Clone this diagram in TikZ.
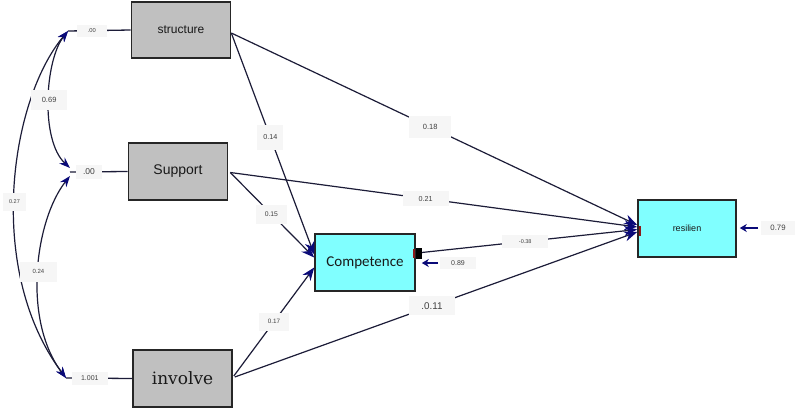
\documentclass[tikz,border=0pt]{standalone}
\usepackage{fontspec}
\setmainfont{Liberation Sans}
\newfontfamily\calfont{Carlito}
\newfontfamily\serfont{DejaVu Serif}
\usetikzlibrary{arrows.meta}
\definecolor{boxgray}{HTML}{C0C0C0}
\definecolor{boxcyan}{HTML}{80FFFF}
\definecolor{linec}{HTML}{1C1C38}
\definecolor{navyc}{HTML}{0A0A78}
\definecolor{lblbg}{HTML}{F6F6F6}
\definecolor{lbltxt}{HTML}{404040}
\definecolor{mkred}{HTML}{8B1A1A}
\begin{document}
\begin{tikzpicture}[x=1pt,y=-1pt,
  vbox/.style={draw=black!85, line width=1.6pt, minimum width=99pt, minimum height=56pt, inner sep=0pt, text=black!90},
  gbox/.style={vbox, fill=boxgray},
  cbox/.style={vbox, fill=boxcyan},
  lbl/.style={fill=lblbg, text=lbltxt, inner xsep=6pt, inner ysep=4pt, font=\fontsize{7}{8}\selectfont},
  arr/.style={draw=linec, line width=1.2pt, -{Stealth[length=13pt,width=10pt,color=navyc]}},
  cov/.style={draw=linec, line width=1.2pt, {Stealth[length=11pt,width=8pt,color=navyc]}-{Stealth[length=11pt,width=8pt,color=navyc]}},
  plainln/.style={draw=linec, line width=1.3pt},
  errarr/.style={draw=navyc, line width=2.2pt, -{Stealth[length=7pt,width=8pt,color=navyc]}}
]
\useasboundingbox[fill=white] (0,0) rectangle (798,415);

% variable boxes
\node[gbox, font=\fontsize{12}{14}\selectfont] (st) at (181,30) {structure};
\node[gbox, minimum height=57pt, font=\fontsize{14}{16}\selectfont] (sp) at (178,171.5) {Support};
\node[gbox, minimum height=57pt, font=\serfont\fontsize{17}{19}\selectfont] (iv) at (182.5,378.5) {involve};
\node[cbox, minimum width=100pt, minimum height=57pt, font=\calfont\fontsize{15}{17}\selectfont] (cp) at (365,262.5) {Competence};
\node[cbox, minimum width=98pt, minimum height=57pt, font=\fontsize{9}{11}\selectfont] (rs) at (687,228.5) {resilien};

% variance points
\coordinate (vS) at (68,31);
\coordinate (vP) at (70,172);
\coordinate (vI) at (66,378);

% covariances
\draw[cov] (vS) .. controls (10,100) and (-15,270) .. (vI)
  node[lbl, pos=0.53, font=\fontsize{5.5}{6}\selectfont, inner xsep=6pt, inner ysep=7pt] (l27) {0.27};
\draw[cov] (vS) .. controls (45,60) and (40,140) .. ([yshift=4pt]vP)
  node[lbl, pos=0.5, font=\fontsize{7.5}{8}\selectfont, inner xsep=11pt, inner ysep=7pt] (l69) {0.69};
\draw[cov] ([yshift=-4pt]vP) .. controls (35,220) and (22,320) .. (vI)
  node[lbl, pos=0.5, font=\fontsize{6}{7}\selectfont, inner xsep=13pt, inner ysep=8pt] (l24) {0.24};

% variance lines
\draw[plainln] (vS) -- (st.west) node[lbl, pos=0.38, font=\fontsize{5.8}{7}\selectfont, inner xsep=11pt] (v1) {.00};
\draw[plainln] (vP) -- (sp.west) node[lbl, pos=0.33, font=\fontsize{8.5}{9}\selectfont, inner xsep=7pt] (v2) {.00};
\draw[plainln] (vI) -- (iv.west) node[lbl, pos=0.36, font=\fontsize{7}{8}\selectfont, inner xsep=9pt] (v3) {1.001};

% regression paths
\draw[arr] ([yshift=-3pt]st.east) -- ([yshift=3.5pt]rs.west)
  node[lbl, pos=0.49, font=\fontsize{7.5}{8}\selectfont, inner xsep=14pt, inner ysep=8pt] (p18) {0.18};
\draw[arr] ([yshift=-3pt]st.east) -- ([yshift=8pt]cp.west)
  node[lbl, pos=0.47, font=\fontsize{7.2}{8}\selectfont, inner ysep=10pt] (p14) {0.14};
\draw[arr] ([xshift=2pt,yshift=-1pt]sp.east) -- ([yshift=1.5pt]rs.west)
  node[lbl, pos=0.48, font=\fontsize{7.2}{8}\selectfont, inner xsep=16pt, inner ysep=5pt] (p21) {0.21};
\draw[arr] ([xshift=2pt,yshift=-1pt]sp.east) -- ([yshift=5pt]cp.west)
  node[lbl, pos=0.49, font=\fontsize{6.8}{8}\selectfont, inner xsep=9pt, inner ysep=7pt] (p15) {0.15};
\draw[arr] ([xshift=1pt,yshift=2.5pt]iv.east) -- ([yshift=-5pt]cp.west)
  node[lbl, pos=0.5, font=\fontsize{6.3}{7}\selectfont, inner xsep=9pt, inner ysep=7pt] (p17) {0.17};
\draw[arr] ([xshift=2pt,yshift=1.5pt]iv.east) -- ([yshift=-3.5pt]rs.west)
  node[lbl, pos=0.49, font=\fontsize{9.8}{11}\selectfont, inner xsep=12pt, inner ysep=6pt] (p11) {.0.11};
\draw[arr] ([xshift=6pt,yshift=10pt]cp.east) -- ([yshift=-1pt]rs.west)
  node[lbl, pos=0.48, font=\fontsize{5.5}{7}\selectfont, inner xsep=17pt, inner ysep=5pt] (p38) {-0.38};

% markers
\fill[black] (416,248) rectangle (422,259);
\fill[mkred] (412.5,249) rectangle (415,258);
\fill[mkred] (638.5,226) rectangle (641,236);

% error terms
\coordinate (eC) at (438,263);
\draw[errarr] (eC) -- ([xshift=6pt,yshift=-0.5pt]cp.east);
\node[lbl, font=\fontsize{7}{8}\selectfont, inner xsep=11pt] (e89) at (458,263) {0.89};
\coordinate (eR) at (758,228);
\draw[errarr] (eR) -- ([xshift=3pt,yshift=0.5pt]rs.east);
\node[lbl, font=\fontsize{7.8}{9}\selectfont, inner xsep=9pt] (e79) at (778,228) {0.79};
\end{tikzpicture}
\end{document}
